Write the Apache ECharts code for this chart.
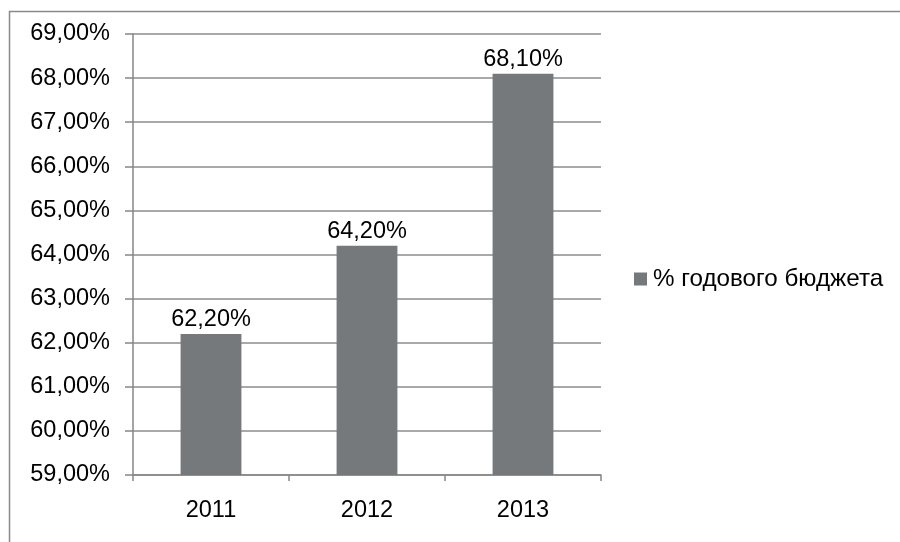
<!DOCTYPE html>
<html>
<head>
<meta charset="utf-8">
<script src="https://cdn.jsdelivr.net/npm/echarts@6/dist/echarts.min.js"></script>
<style>html,body{margin:0;padding:0;background:#fff;}#c{width:900px;height:542px;}</style>
</head>
<body>
<div id="c"></div>
<script>
const categories = ['2011', '2012', '2013'];
const seriesName = '% годового бюджета';
const values = [62.2, 64.2, 68.1];
const yMin = 59, yMax = 69, yStep = 1;

function fmtPct(v) { return v.toFixed(2).replace('.', ',') + '%'; }

const chart = echarts.init(document.getElementById('c'));
const font = "'Liberation Sans', Arial, sans-serif";
const fs = 23.5;
chart.setOption({
  animation: false,
  backgroundColor: '#fff',
  graphic: [{
    type: 'rect', left: 7, top: 9, shape: { width: 1000, height: 600 },
    style: { fill: 'none', stroke: '#8a8a8a', lineWidth: 1.5 }, silent: true
  }],
  grid: { left: 133, right: 299, top: 34, bottom: 67 },
  legend: {
    data: [seriesName], left: 634, top: 267, itemWidth: 13, itemHeight: 13,
    icon: 'rect', itemGap: 6, padding: 0,
    textStyle: { fontFamily: font, fontSize: 24.2, color: '#000', padding: [0,0,0,1] }
  },
  xAxis: {
    type: 'category', data: categories,
    axisLine: { lineStyle: { color: '#868686', width: 1.5 } },
    axisTick: { show: true, length: 6, lineStyle: { color: '#868686', width: 1.5 } },
    axisLabel: { fontFamily: font, fontSize: fs, color: '#000', margin: 24 }
  },
  yAxis: {
    type: 'value', min: yMin, max: yMax, interval: yStep,
    axisLine: { show: true, lineStyle: { color: '#868686', width: 1.5 } },
    axisTick: { show: true, length: 8, lineStyle: { color: '#868686', width: 1.5 } },
    splitLine: { lineStyle: { color: '#8c8c8c', width: 1.5 } },
    axisLabel: { fontFamily: font, fontSize: fs, color: '#000', margin: 23, formatter: fmtPct }
  },
  series: [{
    name: seriesName, type: 'bar', data: values, barWidth: '39%',
    itemStyle: { color: '#76797b' },
    label: { show: true, position: 'top', distance: 2, fontFamily: font, fontSize: fs, color: '#000',
      formatter: p => fmtPct(p.value) }
  }]
});
</script>
</body>
</html>
